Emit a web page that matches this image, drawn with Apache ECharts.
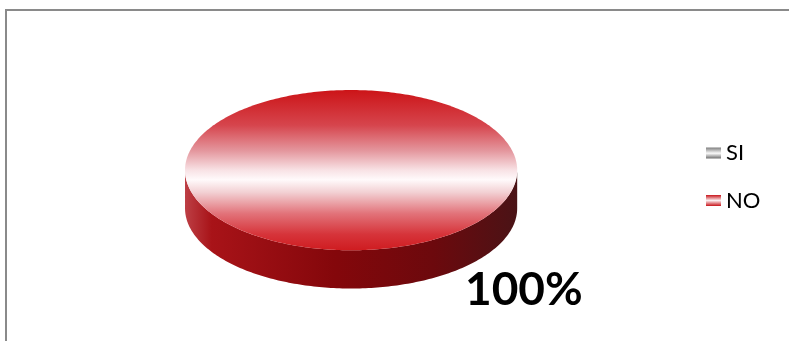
<!DOCTYPE html>
<html>
<head>
<meta charset="utf-8">
<script src="https://cdn.jsdelivr.net/npm/echarts@6/dist/echarts.min.js"></script>
<style>
  html, body { margin: 0; padding: 0; background: #ffffff; }
  #chart { width: 789px; height: 341px; }
</style>
</head>
<body>
<div id="chart"></div>
<script>
// Survey answers
const categories = ['SI', 'NO'];
const values = [0, 100];

// Gradient palettes for each answer (top face / legend swatch)
const swatchStops = {
  SI: [
    { offset: 0, color: '#7e7e7e' },
    { offset: 0.45, color: '#e9e9e9' },
    { offset: 0.55, color: '#f4f4f4' },
    { offset: 1, color: '#6f6f6f' }
  ],
  NO: [
    { offset: 0, color: '#c8141a' },
    { offset: 0.5, color: '#fbeef0' },
    { offset: 1, color: '#c8141a' }
  ]
};
const topStops = {
  SI: swatchStops.SI,
  NO: [
    { offset: 0, color: '#cc1418' },
    { offset: 0.22, color: '#d6454d' },
    { offset: 0.38, color: '#e4979e' },
    { offset: 0.5, color: '#f8e2e5' },
    { offset: 0.56, color: '#fffafb' },
    { offset: 0.64, color: '#f2cfd2' },
    { offset: 0.77, color: '#e2737a' },
    { offset: 0.9, color: '#d6343a' },
    { offset: 1, color: '#cf1c20' }
  ]
};
const sideStops = {
  SI: [
    { offset: 0, color: '#a0a0a0' },
    { offset: 0.5, color: '#666666' },
    { offset: 1, color: '#3e3e3e' }
  ],
  NO: [
    { offset: 0, color: '#bd3f45' },
    { offset: 0.08, color: '#a81318' },
    { offset: 0.45, color: '#84070b' },
    { offset: 0.75, color: '#6c090d' },
    { offset: 1, color: '#4a1316' }
  ]
};

const total = values.reduce((a, b) => a + b, 0);

function linear(stops, horizontal) {
  return {
    type: 'linear', x: 0, y: 0,
    x2: horizontal ? 1 : 0, y2: horizontal ? 0 : 1,
    colorStops: stops
  };
}

// Pie layout (fractions of the canvas)
const layout = { cx: 0.445, cy: 0.499, rx: 0.2105, ry: 0.235, depth: 0.112 };

function ellipsePoint(g, a, dy) {
  return [g.cx + g.rx * Math.cos(a), g.cy + g.ry * Math.sin(a) + (dy || 0)];
}

function arcPoints(g, a0, a1, dy) {
  const pts = [];
  const steps = Math.max(2, Math.ceil(Math.abs(a1 - a0) / (Math.PI / 180)));
  for (let i = 0; i <= steps; i++) {
    pts.push(ellipsePoint(g, a0 + (a1 - a0) * i / steps, dy));
  }
  return pts;
}

function makeRenderItem(catIndex) {
  return function (params, api) {
    const value = api.value(0);
    const name = categories[catIndex];
    const children = [];
    if (!(value > 0)) return { type: 'group', children: children };

    const W = api.getWidth(), H = api.getHeight();
    const g = {
      cx: W * layout.cx, cy: H * layout.cy,
      rx: W * layout.rx, ry: H * layout.ry
    };
    const depth = H * layout.depth;

    // slices start at 12 o'clock and run clockwise
    let before = 0;
    for (let i = 0; i < catIndex; i++) before += values[i];
    const a0 = -Math.PI / 2 + (before / total) * Math.PI * 2;
    const a1 = a0 + (value / total) * Math.PI * 2;
    const full = value >= total;

    // front wall: the parts of the rim facing the viewer (angles 0..PI)
    const windows = [[0, Math.PI], [2 * Math.PI, 3 * Math.PI], [-2 * Math.PI, -Math.PI]];
    windows.forEach(function (w) {
      const b0 = Math.max(a0, w[0]);
      const b1 = Math.min(a1, w[1]);
      if (b1 > b0) {
        const top = arcPoints(g, b0, b1, 0);
        const bottom = arcPoints(g, b0, b1, depth).reverse();
        children.push({
          type: 'polygon',
          shape: { points: top.concat(bottom) },
          style: { fill: linear(sideStops[name], true) }
        });
      }
    });

    // radial cut faces for partial slices
    if (!full) {
      [a0, a1].forEach(function (a) {
        const p = ellipsePoint(g, a, 0);
        children.push({
          type: 'polygon',
          shape: { points: [[g.cx, g.cy], p, [p[0], p[1] + depth], [g.cx, g.cy + depth]] },
          style: { fill: sideStops[name][2].color }
        });
      });
    }

    // top face
    const topPts = full ? arcPoints(g, a0, a1, 0) : [[g.cx, g.cy]].concat(arcPoints(g, a0, a1, 0));
    children.push({
      type: 'polygon',
      shape: { points: topPts },
      style: { fill: linear(topStops[name], false) }
    });

    // percentage label, outside the rim at the lower right
    const pct = Math.round(value / total * 100) + '%';
    children.push({
      type: 'text',
      style: {
        text: pct,
        x: g.cx + g.rx * 1.04,
        y: g.cy + g.ry + depth * 1.05,
        fill: '#000000',
        font: 'bold 46px Lato, "Open Sans", sans-serif',
        align: 'center',
        verticalAlign: 'middle'
      }
    });

    return { type: 'group', children: children };
  };
}

const chart = echarts.init(document.getElementById('chart'), null, { renderer: 'canvas' });

const series = categories.map(function (name, i) {
  return {
    type: 'custom',
    name: name,
    coordinateSystem: 'none',
    renderItem: makeRenderItem(i),
    itemStyle: { color: linear(swatchStops[name], false) },
    data: [[values[i]]],
    silent: true,
    animation: false
  };
});

chart.setOption({
  backgroundColor: '#ffffff',
  animation: false,
  graphic: [{
    type: 'rect',
    shape: { x: 6, y: 10, width: 820, height: 400 },
    style: { fill: 'none', stroke: '#8a8a8a', lineWidth: 2 },
    silent: true
  }],
  legend: {
    orient: 'vertical',
    left: 706,
    top: 142,
    padding: 0,
    itemWidth: 15,
    itemHeight: 11,
    itemGap: 25.5,
    icon: 'rect',
    selectedMode: false,
    data: categories,
    textStyle: {
      fontFamily: 'Lato, "Open Sans", sans-serif',
      fontSize: 22,
      color: '#000000'
    }
  },
  series: series
});
</script>
</body>
</html>
